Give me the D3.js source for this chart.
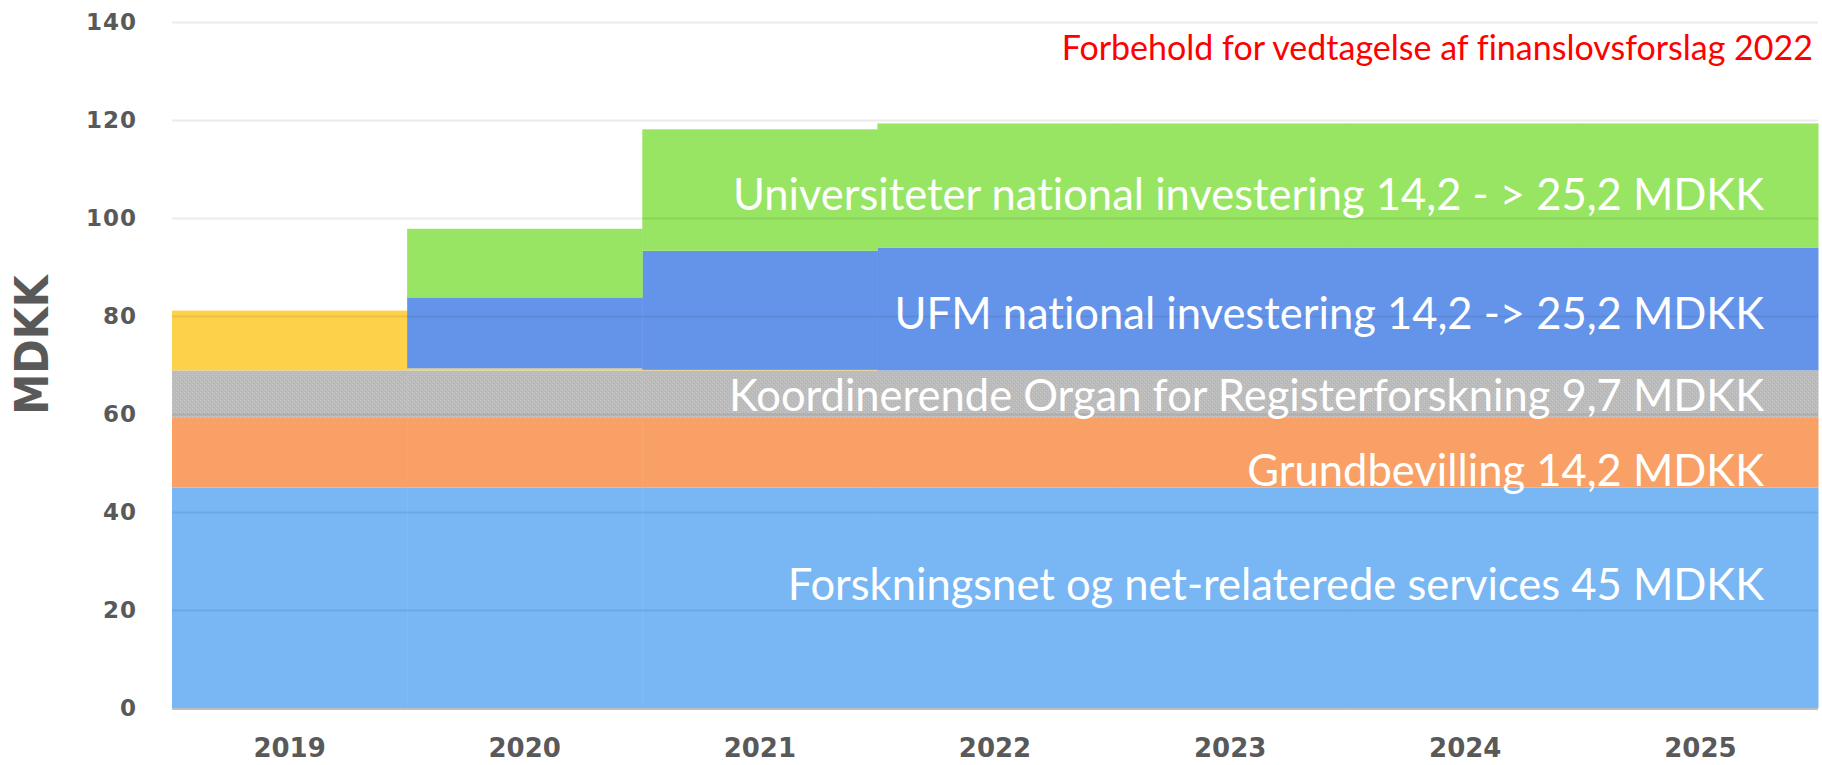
<!DOCTYPE html>
<html>
<head>
<meta charset="utf-8">
<script src="https://cdn.jsdelivr.net/npm/d3@7"></script>
<style>
  body { margin: 0; background: #fff; }
  svg { display: block; }
  text { font-variant-ligatures: none; }
</style>
</head>
<body>
<div id="chart"></div>
<script>
// categories and series (MDKK)
const years = ["2019", "2020", "2021", "2022", "2023", "2024", "2025"];
const forskningsnet = [45, 45, 45, 45, 45, 45, 45];
const grundbevilling = [14.2, 14.2, 14.2, 14.2, 14.2, 14.2, 14.2];
const koordinerende = [9.7, 9.7, 9.7, 9.7, 9.7, 9.7, 9.7];
const tidligere = [12.2, 0.4, 0.1, 0, 0, 0, 0];
const ufm = [0, 14.5, 24.3, 25.0, 25.0, 25.0, 25.0];
const universiteter = [0, 14.0, 24.8, 25.4, 25.4, 25.4, 25.4];
const yTicks = [0, 20, 40, 60, 80, 100, 120, 140];

const seriesKeys = ["forskningsnet", "grundbevilling", "koordinerende", "tidligere", "ufm", "universiteter"];
const seriesLabels = {
  forskningsnet: "Forskningsnet og net-relaterede services 45 MDKK",
  grundbevilling: "Grundbevilling 14,2 MDKK",
  koordinerende: "Koordinerende Organ for Registerforskning 9,7 MDKK",
  ufm: "UFM national investering 14,2 -> 25,2 MDKK",
  universiteter: "Universiteter national investering 14,2 - > 25,2 MDKK"
};
// value (MDKK) where each label sits, as placed in the original
const labelAt = {
  forskningsnet: 25.1,
  grundbevilling: 48.5,
  koordinerende: 63.8,
  ufm: 80.4,
  universiteter: 104.7
};
const note = "Forbehold for vedtagelse af finanslovsforslag 2022";

// set svg parameters
const width = 1822,
      height = 765;
const margin = {top: 22, right: 4, bottom: 57, left: 172};

const svg = d3.select("#chart")
  .append("svg")
    .attr("width", width)
    .attr("height", height);

// grainy fill for the grey band
const defs = svg.append("defs");
const grain = defs.append("pattern")
    .attr("id", "grain")
    .attr("width", 4)
    .attr("height", 4)
    .attr("patternUnits", "userSpaceOnUse");
grain.append("rect").attr("width", 4).attr("height", 4).attr("fill", "#bcbcbc");
grain.append("rect").attr("x", 0).attr("y", 0).attr("width", 1).attr("height", 1).attr("fill", "#c6c6c6");
grain.append("rect").attr("x", 2).attr("y", 2).attr("width", 1).attr("height", 1).attr("fill", "#c6c6c6");
grain.append("rect").attr("x", 1).attr("y", 3).attr("width", 1).attr("height", 1).attr("fill", "#b3b3b3");
grain.append("rect").attr("x", 3).attr("y", 1).attr("width", 1).attr("height", 1).attr("fill", "#b3b3b3");

// build table for stacking
const table = years.map((y, i) => ({
  year: y,
  forskningsnet: forskningsnet[i],
  grundbevilling: grundbevilling[i],
  koordinerende: koordinerende[i],
  tidligere: tidligere[i],
  ufm: ufm[i],
  universiteter: universiteter[i]
}));
const stacked = d3.stack().keys(seriesKeys)(table);

// scales
const x = d3.scaleBand()
    .domain(years)
    .range([margin.left, width - margin.right])
    .padding(0);

const y = d3.scaleLinear()
    .domain([0, 140])
    .range([height - margin.bottom, margin.top]);

const color = d3.scaleOrdinal()
    .domain(seriesKeys)
    .range(["#78b7f3", "#f9a066", "url(#grain)", "#fed14b", "#6494ea", "#97e562"]);

// bars
svg.append("g")
  .selectAll("g")
  .data(stacked)
  .join("g")
    .attr("fill", d => color(d.key))
  .selectAll("rect")
  .data(d => d)
  .join("rect")
    .attr("x", d => x(d.data.year))
    .attr("width", x.bandwidth() + 0.5)
    .attr("y", d => y(d[1]))
    .attr("height", d => Math.max(0, y(d[0]) - y(d[1])));

// gridlines drawn over the bars, faint
const yAxis = svg.append("g")
    .attr("transform", `translate(${margin.left},0)`)
    .call(d3.axisLeft(y)
      .tickValues(yTicks)
      .tickSize(-(width - margin.left - margin.right))
      .tickPadding(35)
      .tickFormat(d3.format("d")));

yAxis.select(".domain").remove();
yAxis.selectAll(".tick line")
    .attr("stroke", "#000")
    .attr("stroke-opacity", 0.08)
    .attr("stroke-width", 2);
yAxis.selectAll(".tick text")
    .attr("fill", "#595959")
    .style("font-family", "'DejaVu Sans', sans-serif")
    .style("font-weight", "bold")
    .style("letter-spacing", "1px")
    .style("font-size", "23px");
yAxis.selectAll(".tick").filter(d => d === 0).select("line").remove();

// baseline
svg.append("line")
    .attr("x1", margin.left)
    .attr("x2", width - margin.right)
    .attr("y1", y(0) + 1)
    .attr("y2", y(0) + 1)
    .attr("stroke", "#bfbfbf")
    .attr("stroke-width", 2);

// x axis
const xAxis = svg.append("g")
    .attr("transform", `translate(0,${y(0)})`)
    .call(d3.axisBottom(x).tickSize(0).tickPadding(31));
xAxis.select(".domain").remove();
xAxis.selectAll(".tick text")
    .attr("fill", "#595959")
    .style("font-family", "'DejaVu Sans', sans-serif")
    .style("font-weight", "bold")
    .style("font-size", "26px");

// y axis title
svg.append("text")
    .attr("transform", `translate(48,345) rotate(-90)`)
    .attr("text-anchor", "middle")
    .attr("fill", "#595959")
    .style("font-family", "'DejaVu Sans Condensed', 'DejaVu Sans', sans-serif")
    .style("font-weight", "bold")
    .style("font-size", "46px")
    .text("MDKK");

// series labels, right aligned inside the last column
const last = years[years.length - 1];
svg.append("g")
  .selectAll("text")
  .data(seriesKeys.filter(k => seriesLabels[k]))
  .join("text")
    .attr("x", x(last) + x.bandwidth() - 54)
    .attr("y", k => y(labelAt[k]))
    .attr("dy", "0.35em")
    .attr("text-anchor", "end")
    .attr("fill", "#fff")
    .style("font-family", "Lato, sans-serif")
    .style("font-size", "43.5px")
    .text(k => seriesLabels[k]);

// red remark
svg.append("text")
    .attr("x", width - 9)
    .attr("y", 60)
    .attr("text-anchor", "end")
    .attr("fill", "#ff0000")
    .style("font-family", "Lato, sans-serif")
    .style("font-size", "34px")
    .text(note);
</script>
</body>
</html>
